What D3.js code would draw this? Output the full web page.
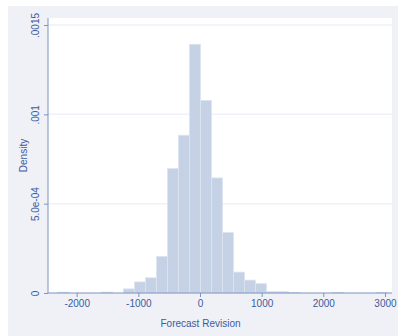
<!DOCTYPE html>
<html>
<head>
<meta charset="utf-8">
<script src="https://cdn.jsdelivr.net/npm/d3@7"></script>
<style>
  body { margin: 0; background: #ffffff; }
  svg { display: block; font-family: "Liberation Sans", Arial, sans-serif; }
</style>
</head>
<body>
<div id="chartContainer"></div>
<script>
// Histogram bins (lower edges) and densities
const binEdges = [-2309, -2131, -1953, -1774, -1596, -1418, -1240, -1062, -883, -705,
  -527, -349, -171, 8, 186, 364, 542, 720, 899, 1077,
  1255, 1433, 1611, 1790, 1968, 2146, 2324, 2502, 2681, 2859, 3037];
const densities = [0.000005, 0, 0, 0, 0.000005, 0, 0.000023, 0.000062, 0.000085, 0.000205,
  0.000696, 0.000883, 0.001392, 0.001078, 0.000644, 0.000338, 0.000117, 0.000072, 0.000052, 0.000008,
  0.000008, 0.000003, 0, 0, 0, 0.000004, 0, 0, 0, 0.000004];
const xTicks = [-2000, -1000, 0, 1000, 2000, 3000];
const yTicks = [0, 0.0005, 0.001, 0.0015];
const yTickLabels = ["0", "5.0e-04", ".001", ".0015"];

const bins = densities.map((d, i) => ({ x0: binEdges[i], x1: binEdges[i + 1], density: d }));

const W = 398, H = 336;
const plot = { left: 48, right: 392, top: 18, bottom: 293 };
const textColor = "#3b5b9d";
const axisColor = "#7d93c2";

const svg = d3.select("#chartContainer")
  .append("svg")
  .attr("width", W)
  .attr("height", H);

// graph region background
svg.append("rect")
  .attr("x", 8).attr("y", 6)
  .attr("width", W - 8).attr("height", H - 6)
  .attr("fill", "#eff1f7");

// plot region
svg.append("rect")
  .attr("x", plot.left).attr("y", plot.top)
  .attr("width", plot.right - plot.left).attr("height", plot.bottom - plot.top)
  .attr("fill", "#ffffff");

const xScale = d3.scaleLinear().domain([-2465, 3114]).range([plot.left, plot.right]);
const yScale = d3.scaleLinear().domain([0, 0.0015]).range([plot.bottom, 25]);

// gridlines
svg.append("g")
  .selectAll("line")
  .data(yTicks.slice(1))
  .enter()
  .append("line")
  .attr("x1", plot.left).attr("x2", plot.right)
  .attr("y1", d => yScale(d)).attr("y2", d => yScale(d))
  .attr("stroke", "#eef1f8")
  .attr("stroke-width", 1.5);

// bars
svg.append("g")
  .selectAll("rect")
  .data(bins.filter(b => b.density > 0))
  .enter()
  .append("rect")
  .attr("x", d => xScale(d.x0))
  .attr("y", d => yScale(d.density))
  .attr("width", d => xScale(d.x1) - xScale(d.x0))
  .attr("height", d => yScale(0) - yScale(d.density))
  .attr("fill", "#c5d1e4")
  .attr("stroke", "#dce4f0")
  .attr("stroke-width", 0.8);

// x axis
const xAxis = svg.append("g")
  .attr("transform", `translate(0, ${plot.bottom})`)
  .call(d3.axisBottom(xScale).tickValues(xTicks).tickSize(4).tickPadding(3).tickSizeOuter(0).tickFormat(d3.format("d")));
xAxis.select(".domain").attr("stroke", axisColor);
xAxis.selectAll(".tick line").attr("stroke", axisColor);
xAxis.selectAll(".tick text")
  .attr("fill", textColor)
  .attr("font-size", "10px")
  .text(d => d < 0 ? "-" + Math.abs(d) : d);
xAxis.select(".domain").attr("d", `M${plot.left},0H${plot.right}`);

// y axis
const yAxis = svg.append("g")
  .attr("transform", `translate(${plot.left}, 0)`)
  .call(d3.axisLeft(yScale).tickValues(yTicks).tickSize(4).tickSizeOuter(0).tickFormat((d, i) => yTickLabels[i]));
yAxis.select(".domain").attr("stroke", axisColor).attr("d", `M0,${plot.top}V${plot.bottom}`);
yAxis.selectAll(".tick line").attr("stroke", axisColor);
yAxis.selectAll(".tick text")
  .attr("fill", textColor)
  .attr("font-size", "10px")
  .attr("x", null).attr("dy", null)
  .attr("text-anchor", "middle")
  .attr("transform", "translate(-9, 0) rotate(-90)");

// axis titles
svg.append("text")
  .attr("x", 200.5)
  .attr("y", 327)
  .attr("text-anchor", "middle")
  .attr("font-size", "10px")
  .attr("fill", textColor)
  .text("Forecast Revision");

svg.append("text")
  .attr("transform", `translate(26.5, ${(plot.top + plot.bottom) / 2}) rotate(-90)`)
  .attr("text-anchor", "middle")
  .attr("font-size", "10px")
  .attr("fill", textColor)
  .text("Density");
</script>
</body>
</html>
